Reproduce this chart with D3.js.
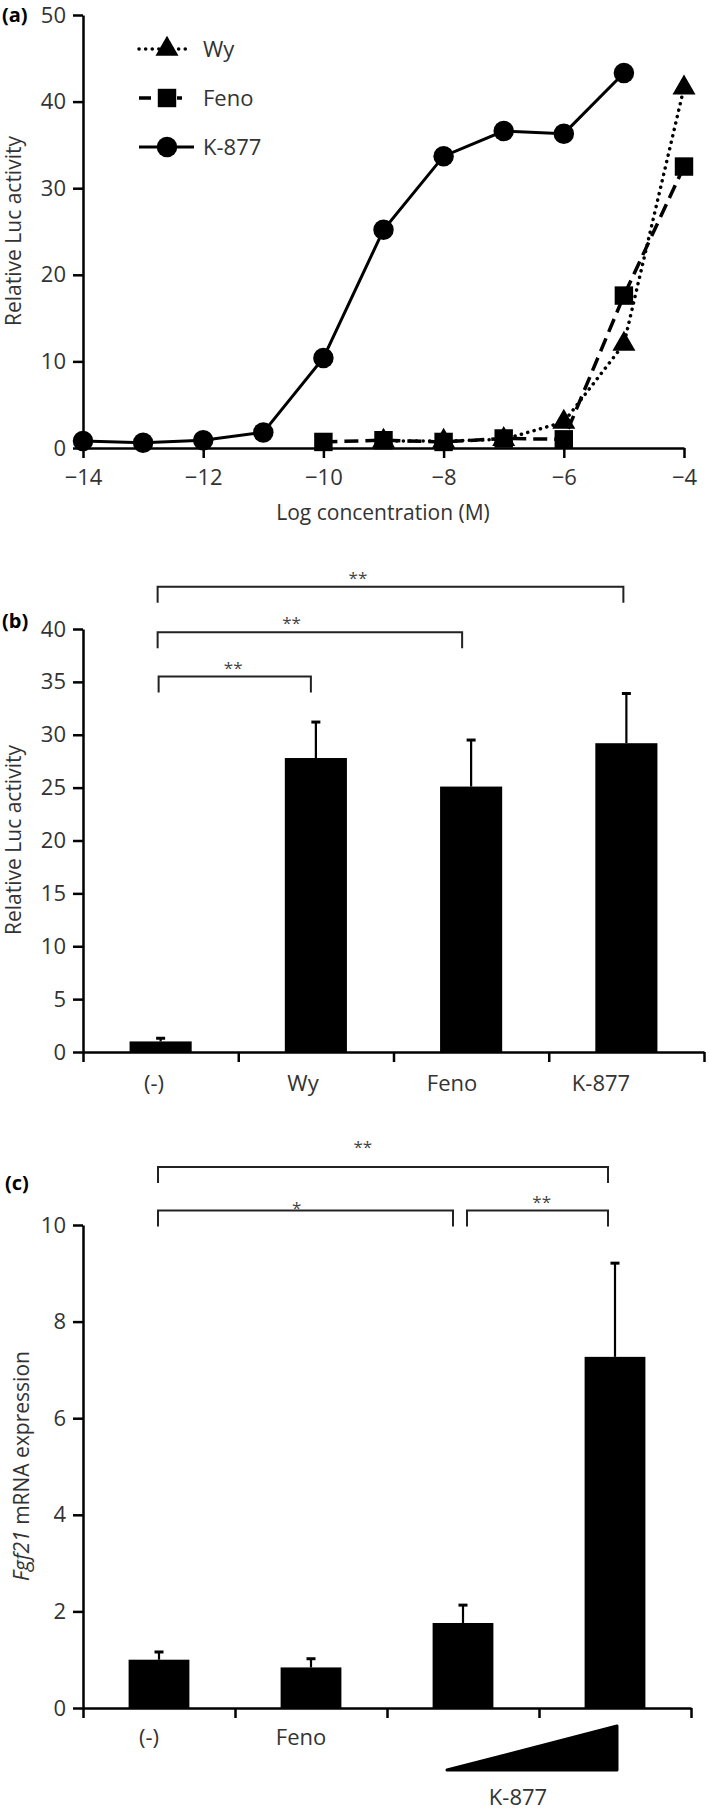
<!DOCTYPE html>
<html>
<head>
<meta charset="utf-8">
<script src="https://cdn.jsdelivr.net/npm/d3@7/dist/d3.min.js"></script>
<style>
body { margin: 0; background: #fff; }
svg text { font-family: "Open Sans", sans-serif; }
</style>
</head>
<body>
<div id="chart"></div>
<script>
// (a) dose response, log concentration (M)
var wyConc   = [-9, -8, -7, -6, -5, -4];
var wyVals   = [0.8, 0.8, 1.0, 3.0, 12.0, 41.6];
var fenoConc = [-10, -9, -8, -7, -6, -5, -4];
var fenoVals = [0.7, 0.9, 0.7, 1.1, 1.0, 17.6, 32.5];
var k877Conc = [-14, -13, -12, -11, -10, -9, -8, -7, -6, -5];
var k877Vals = [0.8, 0.6, 0.9, 1.8, 10.4, 25.2, 33.7, 36.6, 36.3, 43.3];
var aXTicks = [-14, -12, -10, -8, -6, -4];
var aYTicks = [0, 10, 20, 30, 40, 50];

// (b) luciferase assay
var bCats  = ["(-)", "Wy", "Feno", "K-877"];
var bMeans = [1.0, 27.8, 25.1, 29.2];
var bErr   = [0.3, 3.4, 4.4, 4.7];
var bYTicks = [0, 5, 10, 15, 20, 25, 30, 35, 40];
var bSig = [["(-)", "K-877", "**"], ["(-)", "Feno", "**"], ["(-)", "Wy", "**"]];

// (c) Fgf21 mRNA
var cCats   = ["(-)", "Feno", "K-877 low", "K-877 high"];
var cLabels = ["(-)", "Feno", "", ""];
var cMeans  = [1.0, 0.84, 1.76, 7.27];
var cErr    = [0.16, 0.18, 0.37, 1.94];
var cYTicks = [0, 2, 4, 6, 8, 10];
var cSig = [["(-)", "K-877 high", "**"], ["(-)", "K-877 low", "*"], ["K-877 low", "K-877 high", "**"]];

var w = 709, h = 1811;
var txt = "#333";
var fs = 21;

var svg = d3.select("#chart").append("svg")
  .attr("width", w)
  .attr("height", h);

function styleAxis(g) {
  g.attr("font-size", 22).attr("font-family", "Open Sans, sans-serif");
  g.select(".domain").attr("stroke-width", 2.5).attr("stroke", "#000");
  g.selectAll(".tick line").attr("stroke-width", 2.5).attr("stroke", "#000");
  g.selectAll(".tick text").attr("fill", txt);
}

function panelLabel(t, x, y) {
  svg.append("text").attr("x", x).attr("y", y)
    .attr("font-size", 20).attr("font-weight", 700).attr("fill", "#000")
    .text(t);
}

// ---------- panel (a) ----------
var xa = d3.scaleLinear().domain([-14, -4]).range([83, 684]);
var ya = d3.scaleLinear().domain([0, 50]).range([448, 15]);

svg.append("g").attr("transform", "translate(0,448)")
  .call(d3.axisBottom(xa).tickValues(aXTicks).tickSize(10).tickPadding(11).tickSizeOuter(0))
  .call(styleAxis);
svg.append("g").attr("transform", "translate(83,0)")
  .call(d3.axisLeft(ya).tickValues(aYTicks).tickSize(10).tickPadding(7).tickSizeOuter(0))
  .call(styleAxis);

svg.append("text").attr("x", 383).attr("y", 520)
  .attr("text-anchor", "middle").attr("font-size", fs).attr("fill", txt)
  .text("Log concentration (M)");
svg.append("text").attr("transform", "translate(21,231) rotate(-90)")
  .attr("text-anchor", "middle").attr("font-size", fs).attr("fill", txt)
  .text("Relative Luc activity");
panelLabel("(a)", 2, 22);

var line = d3.line().x(function(d) { return xa(d[0]); }).y(function(d) { return ya(d[1]); });

var series = [
  { name: "Wy", conc: wyConc, vals: wyVals, dash: "0.1,6.5", width: 3.5, cap: "round", sym: d3.symbolTriangle, size: 230 },
  { name: "Feno", conc: fenoConc, vals: fenoVals, dash: "14,7", width: 3.5, cap: "butt", sym: d3.symbolSquare, size: 340 },
  { name: "K-877", conc: k877Conc, vals: k877Vals, dash: null, width: 3, cap: "butt", sym: d3.symbolCircle, size: 330 }
];

series.forEach(function(s) {
  var pts = d3.zip(s.conc, s.vals);
  svg.append("path").datum(pts)
    .attr("d", line)
    .attr("fill", "none")
    .attr("stroke", "#000")
    .attr("stroke-width", s.width)
    .attr("stroke-linecap", s.cap)
    .attr("stroke-dasharray", s.dash);
  svg.selectAll(null).data(pts).enter().append("path")
    .attr("d", d3.symbol().type(s.sym).size(s.size))
    .attr("transform", function(d) { return "translate(" + xa(d[0]) + "," + ya(d[1]) + ")"; })
    .attr("fill", "#000");
});

// legend
series.forEach(function(s, i) {
  var ly = 49 + i * 49;
  var x1 = 139, x2 = [190, 182, 194][i];
  svg.append("line").attr("x1", x1).attr("x2", x2).attr("y1", ly).attr("y2", ly)
    .attr("stroke", "#000").attr("stroke-width", s.width)
    .attr("stroke-linecap", s.cap)
    .attr("stroke-dasharray", s.dash ? (i === 0 ? "0.1,6.5" : "12,7") : null);
  svg.append("path")
    .attr("d", d3.symbol().type(s.sym).size(s.size))
    .attr("transform", "translate(167," + ly + ")")
    .attr("fill", "#000");
  svg.append("text").attr("x", 203).attr("y", ly + 8)
    .attr("font-size", 22).attr("fill", txt).text(s.name);
});

// ---------- bar panel helper ----------
function barPanel(opt) {
  var x = d3.scaleBand().domain(opt.cats).range(opt.xr).paddingInner(0.6).paddingOuter(0.3);
  var y = d3.scaleLinear().domain(opt.yd).range(opt.yr);
  var edges = d3.scaleLinear().domain([0, opt.cats.length]).range(opt.xr);

  svg.append("g").attr("transform", "translate(0," + opt.yr[0] + ")")
    .call(d3.axisBottom(edges).tickValues(d3.range(opt.cats.length + 1)).tickFormat("").tickSize(10).tickSizeOuter(0))
    .call(styleAxis);
  svg.append("g").attr("transform", "translate(" + opt.xr[0] + ",0)")
    .call(d3.axisLeft(y).tickValues(opt.ticks).tickSize(10).tickPadding(7).tickSizeOuter(0))
    .call(styleAxis);

  var cx = function(c) { return x(c) + x.bandwidth() / 2; };

  // error bars
  svg.selectAll(null).data(opt.cats).enter().append("line")
    .attr("x1", cx).attr("x2", cx)
    .attr("y1", function(c, i) { return y(opt.means[i]); })
    .attr("y2", function(c, i) { return y(opt.means[i] + opt.err[i]); })
    .attr("stroke", "#000").attr("stroke-width", 2.2);
  svg.selectAll(null).data(opt.cats).enter().append("line")
    .attr("x1", function(c) { return cx(c) - 4.5; })
    .attr("x2", function(c) { return cx(c) + 4.5; })
    .attr("y1", function(c, i) { return y(opt.means[i] + opt.err[i]); })
    .attr("y2", function(c, i) { return y(opt.means[i] + opt.err[i]); })
    .attr("stroke", "#000").attr("stroke-width", 3);

  svg.selectAll(null).data(opt.cats).enter().append("rect")
    .attr("x", function(c) { return x(c); })
    .attr("width", x.bandwidth())
    .attr("y", function(c, i) { return y(opt.means[i]); })
    .attr("height", function(c, i) { return y(0) - y(opt.means[i]); })
    .attr("fill", "#000");

  // significance brackets
  opt.sig.forEach(function(s, i) {
    var l = opt.br[i];
    var x1 = cx(s[0]) + l.in0, x2 = cx(s[1]) + l.in1;
    var by = y(l.level);
    svg.append("path")
      .attr("d", "M" + x1 + "," + (by + 16) + "V" + by + "H" + x2 + "V" + (by + 16))
      .attr("fill", "none").attr("stroke", "#222").attr("stroke-width", 2);
    svg.append("text")
      .attr("x", x1 + (x2 - x1) * l.frac)
      .attr("y", by - l.gap)
      .attr("text-anchor", "middle").attr("font-size", 17).attr("fill", "#444")
      .text(s[2]);
  });

  return { x: x, y: y, cx: cx };
}

// ---------- panel (b) ----------
var pb = barPanel({
  cats: bCats, means: bMeans, err: bErr, ticks: bYTicks,
  xr: [83, 704], yd: [0, 40], yr: [1052, 629], sig: bSig,
  br: [
    { level: 44.0, in0: -3, in1: -3, frac: 0.43, gap: 3 },
    { level: 39.7, in0: -3, in1: -9, frac: 0.44, gap: 3 },
    { level: 35.5, in0: -2, in1: -5, frac: 0.49, gap: 3 }
  ]
});
var bLabelX = d3.scalePoint().domain(bCats).range([154, 601]);
svg.selectAll(null).data(bCats).enter().append("text")
  .attr("x", function(c) { return bLabelX(c); })
  .attr("y", 1091)
  .attr("text-anchor", "middle").attr("font-size", 22).attr("fill", txt)
  .text(function(c) { return c; });
svg.append("text").attr("transform", "translate(21,840) rotate(-90)")
  .attr("text-anchor", "middle").attr("font-size", fs).attr("fill", txt)
  .text("Relative Luc activity");
panelLabel("(b)", 2, 628);

// ---------- panel (c) ----------
var pc = barPanel({
  cats: cCats, means: cMeans, err: cErr, ticks: cYTicks,
  xr: [83, 691], yd: [0, 10], yr: [1708, 1225], sig: cSig,
  br: [
    { level: 11.2, in0: -1, in1: -7, frac: 0.455, gap: 14 },
    { level: 10.3, in0: -1, in1: -10, frac: 0.47, gap: -3 },
    { level: 10.3, in0: 4, in1: -7, frac: 0.53, gap: 3 }
  ]
});
svg.selectAll(null).data(cCats).enter().append("text")
  .attr("x", function(c) { return pc.cx(c) - 10; })
  .attr("y", 1745)
  .attr("text-anchor", "middle").attr("font-size", 22).attr("fill", txt)
  .text(function(c, i) { return cLabels[i]; });

// dose wedge under the two K-877 bars
var wl = pc.cx("K-877 low") - 16, wr = pc.cx("K-877 high") + 2;
var wb = pc.y(0) + 62, wt = pc.y(0) + 18;
svg.append("path")
  .attr("d", "M" + wl + "," + wb + "L" + wr + "," + wt + "L" + wr + "," + wb + "Z")
  .attr("fill", "#000").attr("stroke", "#000").attr("stroke-width", 3).attr("stroke-linejoin", "round");
svg.append("text").attr("x", (wl + wr) / 2 - 14).attr("y", 1805)
  .attr("text-anchor", "middle").attr("font-size", 22).attr("fill", txt)
  .text("K-877");

var yl = svg.append("text").attr("transform", "translate(29,1466) rotate(-90)")
  .attr("text-anchor", "middle").attr("font-size", fs).attr("fill", txt);
yl.append("tspan").attr("font-style", "italic").text("Fgf21");
yl.append("tspan").text(" mRNA expression");
panelLabel("(c)", 5, 1190);
</script>
</body>
</html>
